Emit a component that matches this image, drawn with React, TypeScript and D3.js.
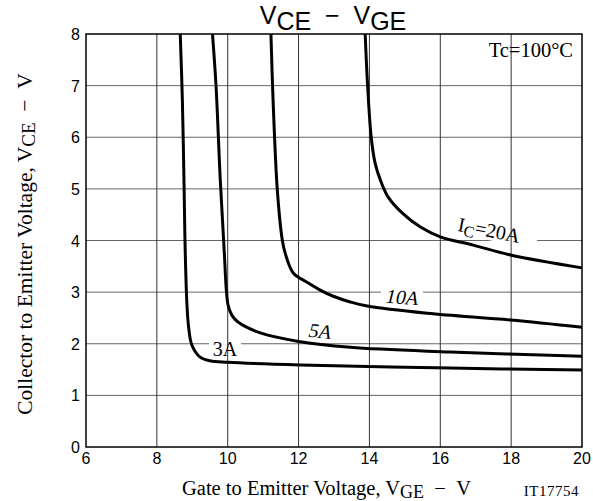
import React from 'react'
import * as d3 from 'd3'

const xTicks = [6, 8, 10, 12, 14, 16, 18, 20]
const yTicks = [0, 1, 2, 3, 4, 5, 6, 7, 8]

const vge3A = [8.66, 8.72, 8.77, 8.8, 8.85, 8.9, 8.99, 9.22, 9.5, 10.0, 12.05, 16.28, 20]
const vce3A = [8, 6.72, 4.98, 3.81, 2.75, 2.3, 1.97, 1.74, 1.67, 1.64, 1.59, 1.53, 1.49]

const vge5A = [9.57, 9.67, 9.79, 9.9, 10.01, 10.12, 10.29, 10.92, 11.96, 13.46, 16.28, 20]
const vce5A = [8, 7, 5.17, 3.81, 2.75, 2.55, 2.42, 2.21, 2.05, 1.93, 1.84, 1.76]

const vge10A = [11.22, 11.28, 11.4, 11.54, 11.62, 11.85, 12.24, 12.61, 12.98, 13.46, 13.94, 15.63, 17.98, 20]
const vce10A = [8, 6.72, 4.98, 4.01, 3.76, 3.37, 3.19, 3.04, 2.92, 2.81, 2.73, 2.59, 2.46, 2.32]

const vge20A = [13.88, 13.94, 14.05, 14.16, 14.31, 14.53, 14.93, 15.44, 16.0, 16.93, 17.98, 20]
const vce20A = [8, 7.11, 6.0, 5.5, 5.17, 4.84, 4.53, 4.26, 4.07, 3.91, 3.72, 3.47]

const series = [
  { name: '3A', x: vge3A, y: vce3A },
  { name: '5A', x: vge5A, y: vce5A },
  { name: '10A', x: vge10A, y: vce10A },
  { name: '20A', x: vge20A, y: vce20A }
]

const W = 593
const H = 501
const margin = { top: 34, right: 11, bottom: 54, left: 86 }

const serif = '"Liberation Serif", "Times New Roman", serif'
const sans = '"Liberation Sans", Arial, sans-serif'
const dash = '\u00a0\u00a0\u2212\u00a0\u00a0'

const App = () => {
  const x = d3.scaleLinear().domain([6, 20]).range([margin.left, W - margin.right])
  const y = d3.scaleLinear().domain([0, 8]).range([H - margin.bottom, margin.top])

  const line = d3
    .line<[number, number]>()
    .x((d) => x(d[0]))
    .y((d) => y(d[1]))
    .curve(d3.curveCatmullRom.alpha(0.5))

  return (
    <svg width={W} height={H} style={{ display: 'block', position: 'absolute', left: 0, top: 0 }}>
      <rect width={W} height={H} fill="#fff" />
      {/* title */}
      <text x={333} y={24} textAnchor="middle" fontFamily={sans} fontSize={25} fill="#000">
        V<tspan dy={6}>CE</tspan>
        <tspan dy={-6}>{dash + 'V'}</tspan>
        <tspan dy={6}>GE</tspan>
      </text>

      {/* horizontal grid */}
      {yTicks.slice(1, -1).map((t) => (
        <line key={'gy' + t} x1={x(6)} x2={x(20)} y1={y(t)} y2={y(t)} stroke="#666" strokeWidth={1} />
      ))}

      {/* label backgrounds */}
      <rect x={209} y={340} width={32} height={18} fill="#fff" />
      <rect x={381} y={286} width={42} height={20} fill="#fff" />
      <rect x={448} y={220} width={90} height={20} fill="#fff" transform="rotate(11 489 231)" />

      {/* vertical grid */}
      {xTicks.slice(1, -1).map((t) => (
        <line key={'gx' + t} x1={x(t)} x2={x(t)} y1={y(0)} y2={y(8)} stroke="#333" strokeWidth={1} />
      ))}

      {/* curves */}
      {series.map((s) => (
        <path
          key={s.name}
          d={line(s.x.map((v, i) => [v, s.y[i]]) as [number, number][]) || ''}
          fill="none"
          stroke="#000"
          strokeWidth={3}
          strokeLinejoin="round"
        />
      ))}

      {/* frame */}
      <rect
        x={x(6)}
        y={y(8)}
        width={x(20) - x(6)}
        height={y(0) - y(8)}
        fill="none"
        stroke="#000"
        strokeWidth={1.5}
      />

      {/* ticks */}
      {xTicks.map((t) => (
        <text key={'tx' + t} x={x(t)} y={y(0) + 17} textAnchor="middle" fontFamily={sans} fontSize={16}>
          {t}
        </text>
      ))}
      {yTicks.map((t) => (
        <text key={'ty' + t} x={x(6) - 6} y={y(t) + 6} textAnchor="end" fontFamily={sans} fontSize={16}>
          {t}
        </text>
      ))}

      {/* curve labels */}
      <text x={225} y={356} textAnchor="middle" fontFamily={serif} fontSize={20}>
        3A
      </text>
      <text x={320} y={338} textAnchor="middle" fontFamily={serif} fontSize={20} fontStyle="italic" transform="rotate(6 320 331)">
        5A
      </text>
      <text x={402} y={304} textAnchor="middle" fontFamily={serif} fontSize={20} fontStyle="italic" transform="rotate(4 402 297)">
        10A
      </text>
      <text x={489} y={237} textAnchor="middle" fontFamily={serif} fontSize={20} transform="rotate(11 489 231)">
        I<tspan fontSize={16} dy={4}>C</tspan>
        <tspan dy={-4}>=20A</tspan>
      </text>

      <text x={573} y={57} textAnchor="end" fontFamily={serif} fontSize={20.5}>
        Tc=100°C
      </text>

      {/* axis labels */}
      <text x={182} y={495} fontFamily={serif} fontSize={20.5}>
        Gate to Emitter Voltage, V<tspan fontSize={18} dy={3}>GE</tspan>
        <tspan dy={-3}>{dash + 'V'}</tspan>
      </text>
      <text x={579} y={496} textAnchor="end" fontFamily={serif} fontSize={15} letterSpacing={0.5}>
        IT17754
      </text>
      <text
        transform="translate(32,244) rotate(-90)"
        textAnchor="middle"
        fontFamily={serif}
        fontSize={21.5}
      >
        Collector to Emitter Voltage, V<tspan fontSize={19} dy={3}>CE</tspan>
        <tspan dy={-3}>{dash + 'V'}</tspan>
      </text>
    </svg>
  )
}

export default App
